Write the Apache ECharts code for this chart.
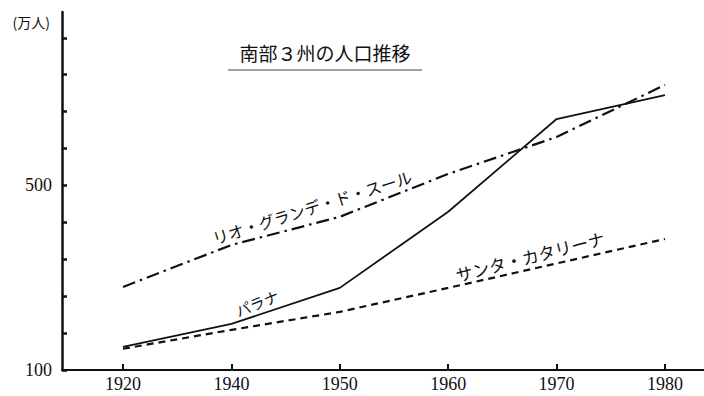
<!DOCTYPE html>
<html>
<head>
<meta charset="utf-8">
<script src="https://cdn.jsdelivr.net/npm/echarts@6/dist/echarts.min.js"></script>
<style>
html,body{margin:0;padding:0;background:#fff;}
#chart{width:704px;height:396px;}
</style>
</head>
<body>
<div id="chart"></div>
<script>
var years = ['1920', '1940', '1950', '1960', '1970', '1980'];
var rioGrandeDoSul = [280, 371, 432, 525, 605, 718];
var parana = [150, 200, 278, 443, 644, 696];
var santaCatarina = [146, 187, 226, 278, 331, 384];
var yTickValues = [100, 180, 260, 340, 420, 500, 580, 660, 740, 820];
var yLabelValues = [100, 500];
var titleText = '南部３州の人口推移';
var unitText = '(万人)';
var seriesNames = ['リオ・グランデ・ド・スール', 'パラナ', 'サンタ・カタリーナ'];

function pairs(arr) { return arr.map(function (v, i) { return [i, v]; }); }

var ink = '#111';
var chart = echarts.init(document.getElementById('chart'), null, {renderer: 'svg'});
chart.setOption({
  backgroundColor: '#fff',
  animation: false,
  grid: {left: 62, right: 0, top: 12, bottom: 26},
  xAxis: {
    type: 'value',
    min: -0.5627,
    max: 5.36,
    splitLine: {show: false},
    axisLine: {show: true, onZero: false, lineStyle: {color: ink, width: 2}},
    axisTick: {show: true, inside: true, length: 6, customValues: [0, 1, 2, 3, 4, 5], lineStyle: {color: ink, width: 2}},
    axisLabel: {
      customValues: [0, 1, 2, 3, 4, 5],
      formatter: function (v) { return years[Math.round(v)]; },
      fontFamily: 'Liberation Serif', fontSize: 18, color: ink, margin: 5
    }
  },
  yAxis: {
    type: 'value',
    min: 100,
    max: 876,
    splitLine: {show: false},
    axisLine: {show: true, onZero: false, lineStyle: {color: ink, width: 2.5}},
    axisTick: {show: true, inside: true, length: 5, customValues: yTickValues, lineStyle: {color: ink, width: 2.5}},
    axisLabel: {
      customValues: yLabelValues,
      fontFamily: 'Liberation Serif', fontSize: 18, color: ink, margin: 10
    }
  },
  series: [
    {
      name: seriesNames[0], type: 'line', data: pairs(rioGrandeDoSul), symbol: 'none',
      lineStyle: {color: ink, width: 2.2, type: [13, 5, 2.5, 5]}
    },
    {
      name: seriesNames[1], type: 'line', data: pairs(parana), symbol: 'none',
      lineStyle: {color: ink, width: 1.8, type: 'solid'}
    },
    {
      name: seriesNames[2], type: 'line', data: pairs(santaCatarina), symbol: 'none',
      lineStyle: {color: ink, width: 2.2, type: [7, 5]}
    }
  ],
  graphic: [
    {type: 'text', x: 325, y: 52, style: {text: titleText, font: '19px "Noto Sans CJK JP"', fill: ink, align: 'center', verticalAlign: 'middle'}},
    {type: 'line', shape: {x1: 228, y1: 70, x2: 422, y2: 70}, style: {stroke: '#444', lineWidth: 1}},
    {type: 'text', x: 50, y: 22, style: {text: unitText, font: '14px "Noto Sans CJK JP"', fill: ink, align: 'right', verticalAlign: 'middle'}},
    {type: 'text', x: 312, y: 207, rotation: 17.5 * Math.PI / 180, style: {text: seriesNames[0], font: '16px "Noto Sans CJK JP"', fill: ink, align: 'center', verticalAlign: 'middle'}},
    {type: 'text', x: 257, y: 303, rotation: 22 * Math.PI / 180, style: {text: seriesNames[1], font: '15px "Noto Sans CJK JP"', fill: ink, align: 'center', verticalAlign: 'middle'}},
    {type: 'text', x: 530, y: 256, rotation: 14.4 * Math.PI / 180, style: {text: seriesNames[2], font: '17px "Noto Sans CJK JP"', fill: ink, align: 'center', verticalAlign: 'middle'}}
  ]
});
</script>
</body>
</html>
